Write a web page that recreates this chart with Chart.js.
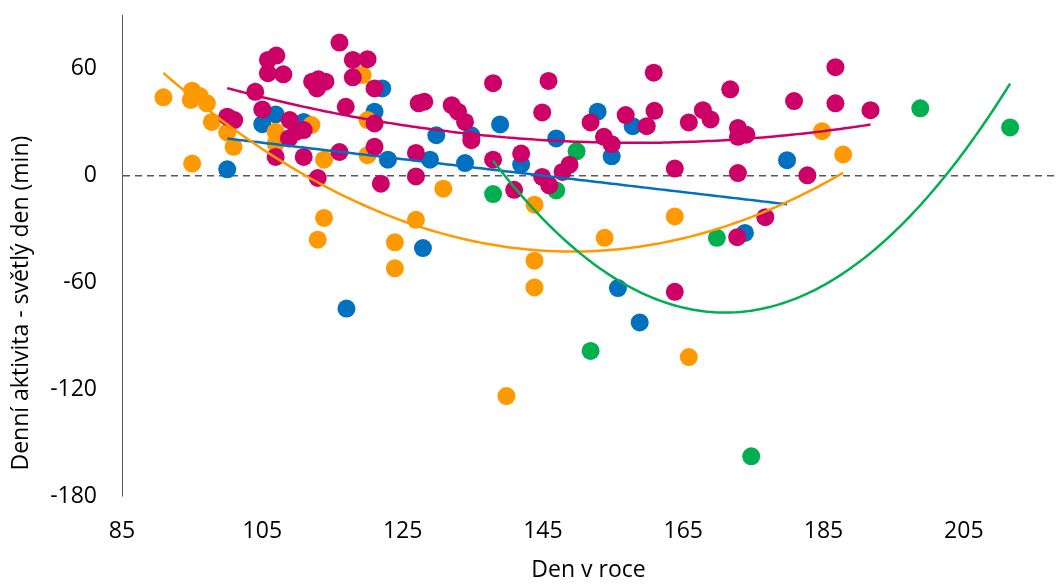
<!DOCTYPE html>
<html>
<head>
<meta charset="utf-8">
<script src="https://cdn.jsdelivr.net/npm/chart.js@4.4.1/dist/chart.umd.min.js"></script>
<style>
  html, body { margin: 0; padding: 0; background: #ffffff; }
  canvas { display: block; }
</style>
</head>
<body>
<canvas id="chart" width="1064" height="584"></canvas>
<script>
// Axis ticks
const xTicks = [85, 105, 125, 145, 165, 185, 205];
const yTicks = [-180, -120, -60, 0, 60];

// Axis titles
const xTitle = 'Den v roce';
const yTitle = 'Denní aktivita - světlý den (min)';

// Blue group (day of year, minutes)
const blueX = [100.0, 105.0, 106.9, 110.9, 122.1, 121.0, 122.9, 128.9, 129.8, 127.9, 117.0, 134.8,
               138.9, 133.9, 146.9, 141.9, 152.8, 157.8, 154.8, 155.7, 158.8, 173.8, 179.8];
const blueY = [3.4, 28.7, 34.2, 30.0, 48.8, 35.7, 8.8, 8.8, 22.5, -40.8, -74.8, 22.5,
               28.6, 6.9, 20.7, 6.2, 35.7, 27.6, 10.7, -63.3, -82.6, -32.3, 8.5];

// Orange group
const orangeX = [90.9, 95.0, 94.8, 96.1, 97.1, 97.8, 100.0, 100.9, 95.0, 106.9, 106.9, 112.0,
                 113.8, 119.3, 120.0, 120.0, 130.8, 143.8, 113.8, 112.9, 123.9, 123.9, 126.9,
                 143.8, 143.8, 139.8, 153.8, 163.8, 165.8, 184.8, 187.8];
const orangeY = [43.8, 47.5, 42.3, 44.5, 40.4, 30.0, 24.1, 16.0, 6.6, 24.4, 17.8, 28.2,
                 8.8, 56.3, 31.0, 11.3, -7.5, -16.5, -23.9, -36.1, -37.6, -52.2, -25.0,
                 -47.9, -62.9, -123.9, -35.1, -23.1, -102.0, 24.8, 11.7];

// Green group
const greenX = [137.9, 146.9, 149.8, 151.8, 169.8, 174.7, 198.8, 211.6];
const greenY = [-10.5, -8.5, 13.5, -98.6, -35.1, -157.7, 37.6, 26.9];

// Magenta group
const magentaX = [104.0, 105.0, 105.8, 107.0, 105.8, 108.0, 116.0, 117.9, 120.0, 117.9, 112.1, 113.0,
                  114.0, 112.8, 121.0, 116.9, 121.0, 100.0, 101.0, 108.9, 109.8, 110.9, 108.8, 106.9,
                  110.9, 116.0, 121.0, 112.9, 121.9, 126.9, 126.9, 127.3, 128.1, 132.0, 132.9, 133.9,
                  134.8, 137.9, 145.8, 144.9, 137.9, 141.9, 140.9, 144.9, 145.9, 147.8, 148.8, 151.8,
                  153.7, 154.8, 156.8, 159.8, 160.9, 160.8, 163.8, 165.8, 167.8, 168.9, 171.7, 172.8,
                  172.8, 172.8, 174.0, 186.7, 180.8, 186.7, 191.7, 182.7, 172.7, 176.7, 163.8];
const magentaY = [46.9, 37.0, 64.8, 67.2, 57.3, 56.7, 74.5, 64.8, 65.2, 55.0, 52.6, 53.9,
                  52.6, 48.8, 48.8, 38.5, 29.1, 32.9, 31.0, 31.0, 24.4, 25.4, 20.7, 10.3,
                  10.3, 13.1, 16.0, -1.5, -4.7, 12.6, -0.6, 40.4, 41.3, 39.4, 35.7, 30.0,
                  19.7, 51.7, 53.0, 35.3, 8.8, 12.2, -8.1, -0.9, -5.6, 1.9, 6.0, 29.7,
                  21.6, 17.5, 33.8, 27.6, 36.2, 57.6, 3.8, 29.7, 36.6, 31.4, 48.3, 26.6,
                  21.6, 1.3, 22.8, 60.7, 41.7, 40.4, 36.6, 0.0, -34.7, -23.5, -65.4];

const COLORS = { blue: '#0070C0', orange: '#FF9900', green: '#00B050', magenta: '#CC0066' };
const FONT_FAMILY = "'Open Sans', sans-serif";
const FONT_SIZE = 23;

// Least-squares polynomial fit (trend line), evaluated over the group's day range
function polyFit(xs, ys, degree) {
  const n = degree + 1;
  const x0 = xs.reduce((a, b) => a + b, 0) / xs.length;
  const A = Array.from({ length: n }, () => new Array(n + 1).fill(0));
  xs.forEach((x, k) => {
    const u = x - x0;
    for (let i = 0; i < n; i++) {
      for (let j = 0; j < n; j++) A[i][j] += Math.pow(u, i + j);
      A[i][n] += ys[k] * Math.pow(u, i);
    }
  });
  for (let i = 0; i < n; i++) {
    let p = i;
    for (let r = i + 1; r < n; r++) if (Math.abs(A[r][i]) > Math.abs(A[p][i])) p = r;
    [A[i], A[p]] = [A[p], A[i]];
    for (let r = 0; r < n; r++) {
      if (r === i) continue;
      const f = A[r][i] / A[i][i];
      for (let c = i; c <= n; c++) A[r][c] -= f * A[i][c];
    }
  }
  const coef = A.map((row, i) => row[n] / row[i]);
  return x => coef.reduce((s, c, i) => s + c * Math.pow(x - x0, i), 0);
}

function trendLine(xs, ys, degree) {
  const f = polyFit(xs, ys, degree);
  const lo = Math.min(...xs), hi = Math.max(...xs);
  const steps = 150, pts = [];
  for (let i = 0; i <= steps; i++) {
    const x = lo + (hi - lo) * i / steps;
    pts.push({ x, y: f(x) });
  }
  return pts;
}

const toPoints = (xs, ys) => xs.map((x, i) => ({ x, y: ys[i] }));

function scatterSet(label, xs, ys, color, order) {
  return {
    label, data: toPoints(xs, ys), order,
    backgroundColor: color, borderColor: color, borderWidth: 0,
    pointRadius: 9, pointHoverRadius: 9, showLine: false
  };
}
function trendSet(label, xs, ys, degree, color, order) {
  return {
    label, data: trendLine(xs, ys, degree), order,
    borderColor: color, backgroundColor: color, borderWidth: 2.5,
    pointRadius: 0, pointHoverRadius: 0, showLine: true, fill: false, tension: 0
  };
}

// Vertical axis title, placed along the lower part of the value axis
const yTitlePlugin = {
  id: 'yTitle',
  afterDraw(chart) {
    const { ctx, chartArea } = chart;
    const cy = chartArea.top + (chartArea.bottom - chartArea.top) * 0.599;
    ctx.save();
    ctx.translate(21.5, cy);
    ctx.rotate(-Math.PI / 2);
    ctx.font = `${FONT_SIZE}px ${FONT_FAMILY}`;
    ctx.fillStyle = '#000000';
    ctx.textAlign = 'center';
    ctx.textBaseline = 'middle';
    ctx.fillText(yTitle, 0, 0);
    ctx.restore();
  }
};

const tickFont = { family: FONT_FAMILY, size: FONT_SIZE };

new Chart(document.getElementById('chart'), {
  type: 'scatter',
  data: {
    datasets: [
      trendSet('Trend magenta', magentaX, magentaY, 2, COLORS.magenta, 0),
      trendSet('Trend green', greenX, greenY, 2, COLORS.green, 1),
      trendSet('Trend orange', orangeX, orangeY, 2, COLORS.orange, 2),
      trendSet('Trend blue', blueX, blueY, 1, COLORS.blue, 3),
      scatterSet('Magenta', magentaX, magentaY, COLORS.magenta, 4),
      scatterSet('Green', greenX, greenY, COLORS.green, 5),
      scatterSet('Orange', orangeX, orangeY, COLORS.orange, 6),
      scatterSet('Blue', blueX, blueY, COLORS.blue, 7)
    ]
  },
  plugins: [yTitlePlugin],
  options: {
    responsive: false,
    animation: false,
    layout: { padding: { top: 15, right: 3, left: 0, bottom: 0 } },
    plugins: { legend: { display: false }, tooltip: { enabled: false } },
    scales: {
      x: {
        type: 'linear', min: 85, max: 218,
        afterBuildTicks: s => { s.ticks = xTicks.map(v => ({ value: v })); },
        afterFit: s => { s.height = 88; s.paddingLeft = 0; s.paddingRight = 0; },
        grid: { display: false, drawTicks: false },
        border: { display: false },
        ticks: { font: tickFont, color: '#000000', padding: 22, maxRotation: 0, autoSkip: false },
        title: { display: true, text: xTitle, font: tickFont, color: '#000000', padding: { top: 0, bottom: 0 } }
      },
      y: {
        type: 'linear', min: -180, max: 90,
        afterBuildTicks: s => { s.ticks = yTicks.map(v => ({ value: v })); },
        afterFit: s => { s.width = 122; s.paddingTop = 0; s.paddingBottom = 0; },
        grid: {
          drawTicks: false,
          color: c => (c.tick && c.tick.value === 0) ? '#595959' : 'rgba(0,0,0,0)',
          lineWidth: 1.5
        },
        border: { display: true, color: '#595959', width: 1, dash: [7, 5] },
        ticks: { font: tickFont, color: '#000000', padding: 25 },
        title: { display: false }
      }
    }
  }
});
</script>
</body>
</html>
